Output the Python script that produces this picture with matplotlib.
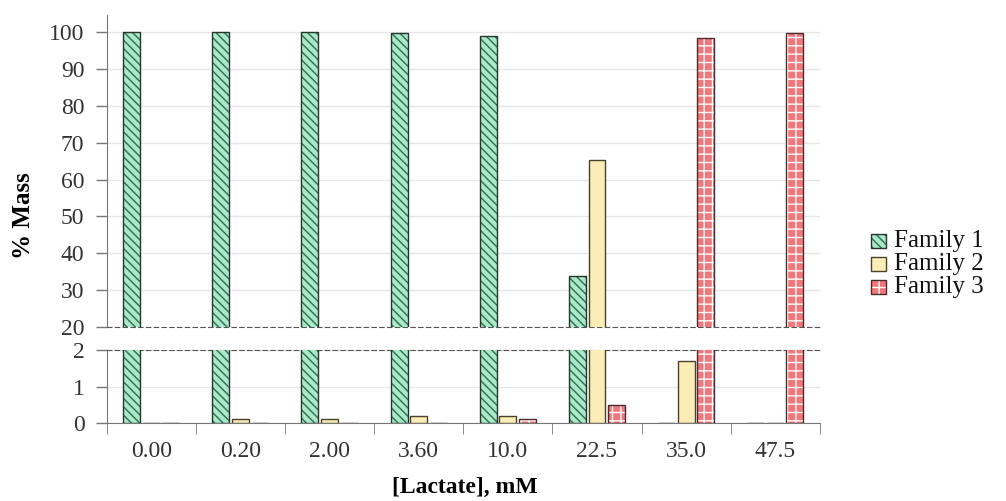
import matplotlib.pyplot as plt
import matplotlib.patches as mpatches
import numpy as np

plt.rcParams['font.family'] = ['Liberation Serif', 'DejaVu Serif']
plt.rcParams['hatch.linewidth'] = 1.0

categories = ['0.00', '0.20', '2.00', '3.60', '10.0', '22.5', '35.0', '47.5']
family1 = [100, 100, 100, 99.6, 98.8, 34, 0, 0]
family2 = [0, 0.1, 0.1, 0.2, 0.2, 65.2, 1.7, 0]
family3 = [0, 0, 0, 0, 0.1, 0.5, 98.3, 99.8]
series_names = ['Family 1', 'Family 2', 'Family 3']

x = np.arange(len(categories))
w = 0.19
step = 0.22

fig = plt.figure(figsize=(10.06, 5.01), dpi=100)
ax_top = fig.add_axes([0.106, 0.347, 0.709, 0.623])
ax_bot = fig.add_axes([0.106, 0.156, 0.709, 0.145])

grid_c = '#e6e6e6'
spine_c = '#777777'
txt_c = '#333333'

styles = [
    dict(face='#a9e8c8', hatch_c='#2f6e4c', hatch='\\\\\\\\', edge='#27352d'),
    dict(face='#fbedb5', hatch_c=None, hatch=None, edge='#4a4030'),
    dict(face='#f2777a', hatch_c='white', hatch='++', edge='#4a2a2a'),
]


def draw(ax):
    for vals, off, st in zip([family1, family2, family3], [-step, 0, step], styles):
        if st['hatch']:
            ax.bar(x + off, vals, w, color=st['face'], edgecolor=st['hatch_c'],
                   hatch=st['hatch'], linewidth=0, zorder=3)
            ax.bar(x + off, vals, w, fill=False, edgecolor=st['edge'],
                   linewidth=1.0, zorder=4)
        else:
            ax.bar(x + off, vals, w, color=st['face'], edgecolor=st['edge'],
                   linewidth=1.0, zorder=3)
    ax.set_xlim(-0.5, len(categories) - 0.5)
    ax.grid(axis='y', color=grid_c, linewidth=1, zorder=0)
    ax.spines['right'].set_visible(False)
    ax.spines['left'].set_color(spine_c)
    ax.tick_params(axis='y', colors=spine_c, labelcolor=txt_c,
                   labelsize=17, length=8, width=1, pad=8)


draw(ax_top)
draw(ax_bot)

ax_top.set_ylim(20, 104.6)
ax_top.set_yticks(np.arange(20, 101, 10))
ax_top.spines['top'].set_visible(False)
ax_top.spines['bottom'].set_linestyle((0, (4, 3)))
ax_top.spines['bottom'].set_color('#555555')
ax_top.set_xticks([])

ax_bot.set_ylim(0, 2)
ax_bot.set_yticks([0, 1, 2])
ax_bot.spines['top'].set_linestyle((0, (4, 3)))
ax_bot.spines['top'].set_color('#555555')
ax_bot.spines['bottom'].set_color(spine_c)
ax_bot.set_xticks(x)
ax_bot.set_xticklabels(categories)
ax_bot.set_xticks(np.arange(-0.5, len(categories) + 0.5, 1), minor=True)
ax_bot.tick_params(axis='x', which='major', length=0, pad=13,
                   labelsize=17, labelcolor=txt_c)
ax_bot.tick_params(axis='x', which='minor', length=8, color=spine_c)

fig.text(0.023, 0.57, '% Mass', rotation=90, ha='center', va='center',
         fontsize=18, fontweight='bold')
fig.text(0.462, 0.028, '[Lactate], mM', ha='center', va='center',
         fontsize=17, fontweight='bold')

# legend drawn by hand so the rows can sit tighter than the font size allows
row_y = [0.519, 0.473, 0.427]
for name, st, yy in zip(series_names, styles, row_y):
    sq = 0.015
    sh = 0.028
    if st['hatch']:
        fig.add_artist(mpatches.Rectangle((0.866, yy - sh / 2), sq, sh,
                                          transform=fig.transFigure,
                                          facecolor=st['face'], edgecolor=st['hatch_c'],
                                          hatch=st['hatch'], linewidth=0))
    fig.add_artist(mpatches.Rectangle((0.866, yy - sh / 2), sq, sh,
                                      transform=fig.transFigure,
                                      facecolor=st['face'] if not st['hatch'] else 'none',
                                      edgecolor=st['edge'], linewidth=1))
    fig.text(0.889, yy, name, ha='left', va='center', fontsize=18, color='#111111')

fig.savefig('out.png', dpi=100)
